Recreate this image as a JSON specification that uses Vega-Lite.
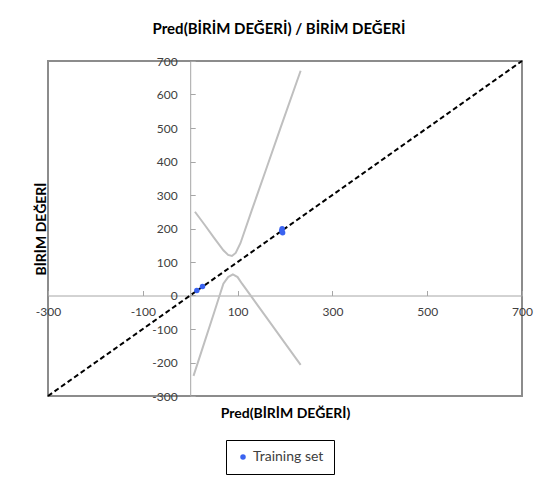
{
  "$schema": "https://vega.github.io/schema/vega-lite/v6.json",
  "width": 474,
  "height": 335,
  "autosize": {"type": "none"},
  "padding": {"left": 48, "top": 61, "right": 25, "bottom": 87},
  "background": "white",
  "title": {
    "text": "Pred(BİRİM DEĞERİ) / BİRİM DEĞERİ",
    "font": "Lato",
    "fontSize": 15,
    "fontWeight": "bold",
    "color": "#000000",
    "offset": 18,
    "dx": -6
  },
  "datasets": {
    "training": [
      {"pred": 14, "obs": 15, "set": "Training set"},
      {"pred": 26, "obs": 27, "set": "Training set"},
      {"pred": 194, "obs": 199, "set": "Training set"},
      {"pred": 193, "obs": 193, "set": "Training set"},
      {"pred": 195, "obs": 187, "set": "Training set"}
    ],
    "bands": [
      {"pred": 10, "obs": 250, "bound": "upper"},
      {"pred": 30, "obs": 212, "bound": "upper"},
      {"pred": 50, "obs": 173, "bound": "upper"},
      {"pred": 70, "obs": 135, "bound": "upper"},
      {"pred": 80, "obs": 121, "bound": "upper"},
      {"pred": 88, "obs": 118, "bound": "upper"},
      {"pred": 96, "obs": 127, "bound": "upper"},
      {"pred": 106, "obs": 156, "bound": "upper"},
      {"pred": 130, "obs": 255, "bound": "upper"},
      {"pred": 160, "obs": 376, "bound": "upper"},
      {"pred": 190, "obs": 498, "bound": "upper"},
      {"pred": 233, "obs": 671, "bound": "upper"},
      {"pred": 7, "obs": -240, "bound": "lower"},
      {"pred": 30, "obs": -140, "bound": "lower"},
      {"pred": 50, "obs": -53, "bound": "lower"},
      {"pred": 70, "obs": 35, "bound": "lower"},
      {"pred": 80, "obs": 55, "bound": "lower"},
      {"pred": 90, "obs": 63, "bound": "lower"},
      {"pred": 100, "obs": 55, "bound": "lower"},
      {"pred": 109, "obs": 36, "bound": "lower"},
      {"pred": 130, "obs": -5, "bound": "lower"},
      {"pred": 160, "obs": -64, "bound": "lower"},
      {"pred": 190, "obs": -123, "bound": "lower"},
      {"pred": 233, "obs": -207, "bound": "lower"}
    ],
    "diagonal": [
      {"pred": -300, "obs": -300, "pred2": 700, "obs2": 700}
    ]
  },
  "config": {
    "view": {"stroke": "#8c8c8c", "strokeWidth": 2},
    "axis": {
      "grid": false,
      "labelFont": "Lato",
      "labelFontSize": 12,
      "labelColor": "#404040",
      "labelExpr": "replace(datum.label, '\u2212', '-')",
      "titleFont": "Lato",
      "titleFontSize": 14,
      "titleFontWeight": "bold",
      "titleColor": "#000000",
      "domainColor": "#a6a6a6",
      "domainWidth": 1,
      "tickColor": "#a6a6a6",
      "tickSize": -5
    }
  },
  "encoding": {
    "x": {
      "field": "pred",
      "type": "quantitative",
      "scale": {"domain": [-300, 700], "nice": false, "zero": false},
      "axis": {
        "title": "Pred(BİRİM DEĞERİ)",
        "values": [-300, -100, 100, 300, 500, 700],
        "offset": -100.5,
        "labelPadding": 16,
        "labelFlush": false,
        "titlePadding": 89
      }
    },
    "y": {
      "field": "obs",
      "type": "quantitative",
      "scale": {"domain": [-300, 700], "nice": false, "zero": false},
      "axis": {
        "title": "BİRİM DEĞERİ",
        "values": [-300, -200, -100, 0, 100, 200, 300, 400, 500, 600, 700],
        "offset": -142.2,
        "labelPadding": 18,
        "labelFlush": false,
        "titlePadding": 103
      }
    }
  },
  "layer": [
    {
      "data": {"name": "diagonal"},
      "mark": {"type": "rule", "color": "#000000", "strokeWidth": 2, "strokeDash": [5, 3]},
      "encoding": {
        "x2": {"field": "pred2"},
        "y2": {"field": "obs2"}
      }
    },
    {
      "data": {"name": "bands"},
      "mark": {"type": "line", "color": "#bfbfbf", "strokeWidth": 2},
      "encoding": {
        "detail": {"field": "bound", "type": "nominal"}
      }
    },
    {
      "data": {"name": "training"},
      "mark": {"type": "circle", "size": 30, "opacity": 1},
      "encoding": {
        "color": {
          "field": "set",
          "type": "nominal",
          "scale": {"range": ["#3a63f0"]},
          "legend": {
            "title": null,
            "orient": "none",
            "legendX": 178,
            "legendY": 379,
            "strokeColor": "#000000",
            "padding": 10,
            "labelOffset": 3,
            "labelFont": "Lato",
            "labelFontSize": 14,
            "labelColor": "#404040",
            "symbolSize": 30
          }
        }
      }
    }
  ]
}
